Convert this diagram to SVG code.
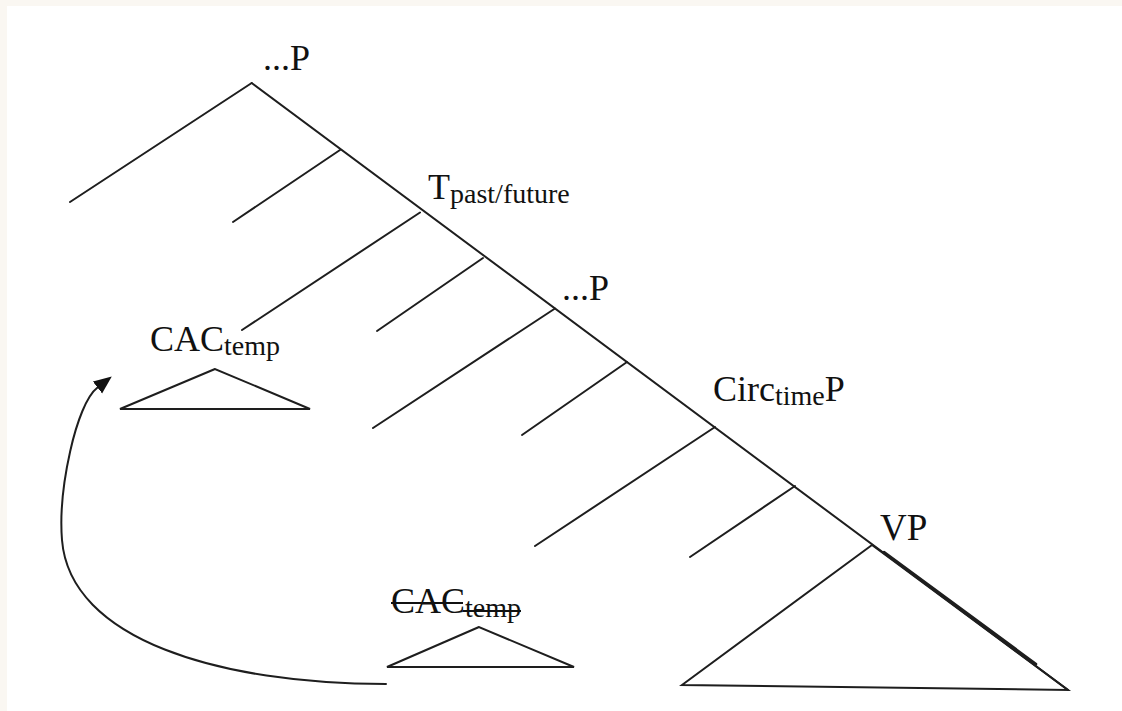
<svg xmlns="http://www.w3.org/2000/svg" width="1122" height="711" viewBox="0 0 1122 711">
  <style>
    .ln { stroke: #1e1e1e; stroke-width: 2; fill: none; stroke-linecap: round; }
    .tri { stroke: #1e1e1e; stroke-width: 2; fill: none; stroke-linejoin: miter; }
    .lbl { font-family: "Liberation Serif", "Times New Roman", serif; font-size: 36px; fill: #111; }
    .sub { font-size: 28px; }
    .strike { stroke: #111; stroke-width: 1.8; }
  </style>
  <defs>
    <marker id="arrow" markerUnits="userSpaceOnUse" markerWidth="20" markerHeight="16" refX="0" refY="7.5" orient="auto">
      <path d="M0,0 L18,7.5 L0,15 z" fill="#111"/>
    </marker>
  </defs>
  <rect x="0" y="0" width="1122" height="711" fill="#faf7f2"/>
  <rect x="7" y="6" width="1115" height="705" fill="#ffffff"/>

  <g id="connectors">
    <line class="ln" x1="251.7" y1="83" x2="1068" y2="690"/>
    <line class="ln" x1="251.7" y1="83" x2="70" y2="202"/>
    <line class="ln" x1="340" y1="150" x2="233" y2="222"/>
    <line class="ln" x1="420" y1="212.5" x2="242" y2="330"/>
    <line class="ln" x1="483" y1="258" x2="377" y2="331"/>
    <line class="ln" x1="555" y1="308.5" x2="373" y2="428"/>
    <line class="ln" x1="627" y1="362" x2="522" y2="435"/>
    <line class="ln" x1="715" y1="427" x2="535" y2="546"/>
    <line class="ln" x1="795" y1="486" x2="690" y2="557"/>
    <line x1="884" y1="552" x2="1036" y2="664" stroke="#1e1e1e" stroke-width="2.6" stroke-linecap="round"/>
    <path class="ln" d="M386,684 C220,684 70,640 62,540 C58,490 76,404 97.5,387.5" marker-end="url(#arrow)"/>
  </g>

  <g id="node-top-P">
    <text class="lbl" x="263" y="70">...P</text>
  </g>
  <g id="node-T">
    <text class="lbl" x="428" y="199">T<tspan class="sub" dy="4">past/future</tspan></text>
  </g>
  <g id="node-mid-P">
    <text class="lbl" x="562" y="300">...P</text>
  </g>
  <g id="node-CircP">
    <text class="lbl" x="713" y="401">Circ<tspan class="sub" dy="4">time</tspan><tspan dy="-4">P</tspan></text>
  </g>
  <g id="node-VP">
    <text class="lbl" x="880" y="540" style="font-size:37px">VP</text>
    <polyline class="tri" points="872,545 682,685 1068,690 872,545"/>
  </g>
  <g id="node-CAC-moved">
    <text class="lbl" x="150" y="351">CAC<tspan class="sub" dy="4">temp</tspan></text>
    <polygon class="tri" points="215,369 120,409 310,409" stroke-width="1.8"/>
  </g>
  <g id="node-CAC-trace">
    <text class="lbl" x="391" y="613">CAC<tspan class="sub" dy="4">temp</tspan></text>
    <line class="strike" x1="391" y1="603" x2="463" y2="603"/>
    <line class="strike" x1="463" y1="611" x2="521" y2="611"/>
    <polygon class="tri" points="479,627 387,667 574,667" stroke-width="1.8"/>
  </g>
</svg>
